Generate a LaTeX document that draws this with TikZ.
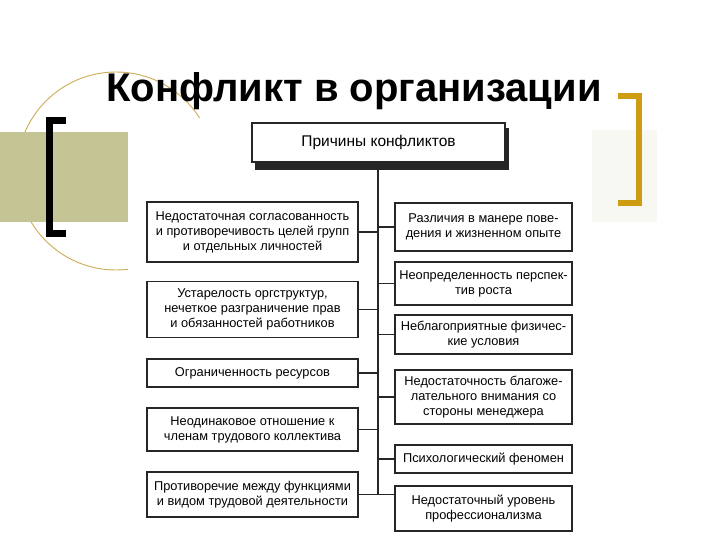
\documentclass[tikz,border=0pt]{standalone}
\usepackage{fontspec}
\setmainfont{Liberation Sans}
\definecolor{olivebar}{RGB}{196,196,148}
\definecolor{goldbar}{RGB}{206,156,18}
\definecolor{arcline}{RGB}{206,172,84}
\definecolor{paleback}{RGB}{248,248,243}
\tikzset{
  causebox/.style={draw=black!85, line width=1.5pt, fill=white, align=center,
    inner sep=0pt, font=\fontsize{12.8}{15}\selectfont},
  leftcause/.style={causebox, minimum width=211pt},
  rightcause/.style={causebox, minimum width=177pt},
  link/.style={draw=black!85, line width=1.3pt}
}
\begin{document}
\begin{tikzpicture}[x=1pt, y=-1pt]
\useasboundingbox (0,0) rectangle (720,540);
\fill[white] (0,0) rectangle (720,540);
% slide decoration
\draw[arcline, line width=0.9pt] (116,171) circle (99);
\fill[olivebar] (0,132) rectangle (128,222);
\fill[paleback] (592,130) rectangle (657,222);
\fill[white] (128,118) rectangle (590,540);
\draw[line width=7pt] (66,120.5) -- (49,120.5) -- (49,233.5) -- (66,233.5);
\draw[goldbar, line width=6pt] (618,96) -- (638.5,96) -- (638.5,203) -- (618,203);
\node[anchor=base, font=\bfseries\fontsize{40}{48}\selectfont] (title) at (354,102) {Конфликт в организации};
% head box
\fill[black!85] (255,128) rectangle (509,170);
\node[causebox, minimum width=253pt, minimum height=39pt, font=\fontsize{15.5}{18}\selectfont] (head) at (378.5,142.5) {Причины конфликтов};
% left column
\node[leftcause, minimum height=60pt] (l1) at (252.5,232) {Недостаточная согласованность\\и противоречивость целей групп\\и отдельных личностей};
\node[leftcause, minimum height=56pt] (l2) at (252.5,309.5) {Устарелость оргструктур,\\нечеткое разграничение прав\\и обязанностей работников};
\node[leftcause, minimum height=28pt] (l3) at (252.5,373) {Ограниченность ресурсов};
\node[leftcause, minimum height=43pt] (l4) at (252.5,429.5) {Неодинаковое отношение к\\членам трудового коллектива};
\node[leftcause, minimum height=45pt] (l5) at (252.5,494.5) {Противоречие между функциями\\и видом трудовой деятельности};
% right column
\node[rightcause, minimum height=48pt] (r1) at (483.5,227) {Различия в манере пове-\\дения и жизненном опыте};
\node[rightcause, minimum height=43pt] (r2) at (483.5,283.5) {Неопределенность перспек-\\тив роста};
\node[rightcause, minimum height=39pt] (r3) at (483.5,334.5) {Неблагоприятные физичес-\\кие условия};
\node[rightcause, minimum height=54pt] (r4) at (483.5,397) {Недостаточность благоже-\\лательного внимания со\\стороны менеджера};
\node[rightcause, minimum height=28pt] (r5) at (483.5,459) {Психологический феномен};
\node[rightcause, minimum height=45pt] (r6) at (483.5,508.5) {Недостаточный уровень\\профессионализма};
% connectors
\coordinate (trunkend) at (378,494.5);
\draw[link] (head.south -| trunkend) -- (trunkend);
\foreach \n in {l1,l2,l3,l4,l5}
  \draw[link] (\n.east) -- (\n.east -| trunkend);
\foreach \n in {r1,r2,r3,r4,r5}
  \draw[link] (\n.west -| trunkend) -- (\n.west);
\draw[link] (trunkend) -- (trunkend -| r6.west);
\end{tikzpicture}
\end{document}
